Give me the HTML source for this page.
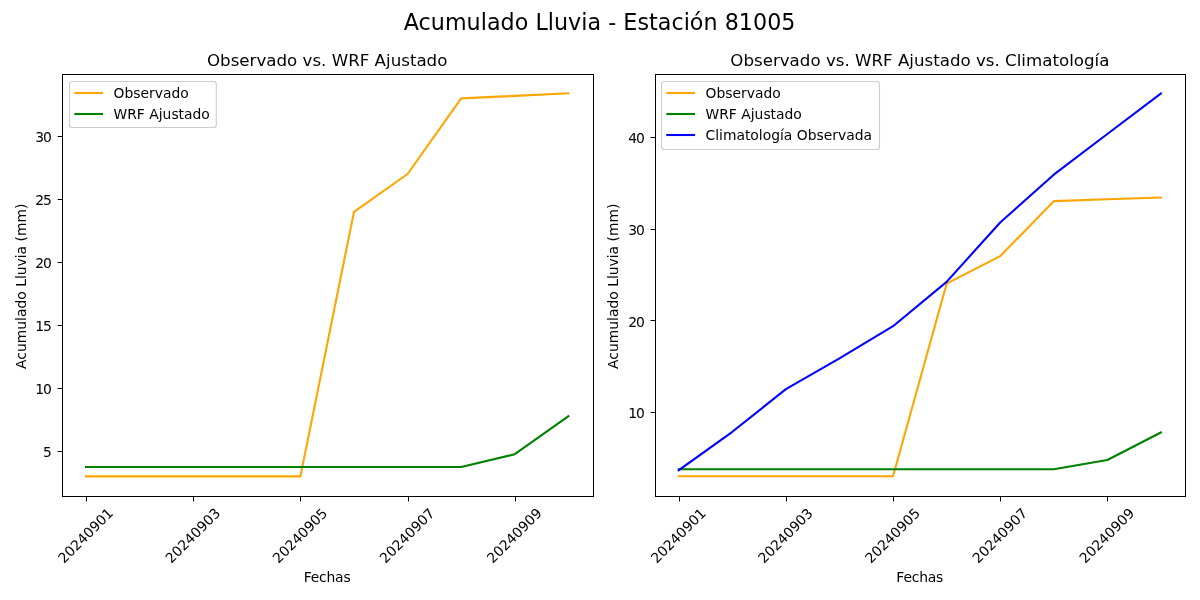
<!DOCTYPE html>
<html lang="es"><head><meta charset="utf-8"><title>Acumulado Lluvia - Estación 81005</title>
<style>html,body{margin:0;padding:0;background:#fff;}body{width:1200px;height:600px;overflow:hidden;}svg{display:block;}text{font-family:'DejaVu Sans','Liberation Sans',sans-serif;white-space:pre;}</style>
</head><body>
<svg width="1200" height="600" viewBox="0 0 1200 600" font-family="'DejaVu Sans','Liberation Sans',sans-serif" fill="#000">
<rect width="1200" height="600" fill="#fff"/>
<text id="t1" x="599.60" y="30.00" font-size="22.222" text-anchor="middle" textLength="391.66" lengthAdjust="spacing">Acumulado Lluvia - Estación 81005</text>
<g id="axes0">
<polyline points="86.02,476.39 139.62,476.39 193.21,476.39 246.81,476.39 300.40,476.39 354.00,211.79 407.59,173.99 461.19,98.39 514.79,95.87 568.38,93.35" fill="none" stroke="#ffa500" stroke-width="2.083" stroke-linejoin="round" stroke-linecap="square"/>
<polyline points="86.02,466.94 139.62,466.94 193.21,466.94 246.81,466.94 300.40,466.94 354.00,466.94 407.59,466.94 461.19,466.94 514.79,454.21 568.38,416.29" fill="none" stroke="#008000" stroke-width="2.083" stroke-linejoin="round" stroke-linecap="square"/>
<rect x="62.5" y="74.5" width="531" height="422" fill="none" stroke="#000" stroke-width="1" shape-rendering="crispEdges"/>
<line x1="86.5" y1="496.5" x2="86.5" y2="501.4" stroke="#000" stroke-width="1"/>
<text id="t2" x="86.72" y="536.80" font-size="13.889" text-anchor="middle" transform="rotate(-45 86.72 536.80)" dy="3.25">20240901</text>
<line x1="193.5" y1="496.5" x2="193.5" y2="501.4" stroke="#000" stroke-width="1"/>
<text id="t3" x="193.91" y="536.80" font-size="13.889" text-anchor="middle" transform="rotate(-45 193.91 536.80)" dy="3.25">20240903</text>
<line x1="300.5" y1="496.5" x2="300.5" y2="501.4" stroke="#000" stroke-width="1"/>
<text id="t4" x="301.10" y="536.80" font-size="13.889" text-anchor="middle" transform="rotate(-45 301.10 536.80)" dy="3.25">20240905</text>
<line x1="408.5" y1="496.5" x2="408.5" y2="501.4" stroke="#000" stroke-width="1"/>
<text id="t5" x="408.29" y="536.80" font-size="13.889" text-anchor="middle" transform="rotate(-45 408.29 536.80)" dy="3.25">20240907</text>
<line x1="515.5" y1="496.5" x2="515.5" y2="501.4" stroke="#000" stroke-width="1"/>
<text id="t6" x="515.49" y="536.80" font-size="13.889" text-anchor="middle" transform="rotate(-45 515.49 536.80)" dy="3.25">20240909</text>
<line x1="57.6" y1="451.5" x2="62.5" y2="451.5" stroke="#000" stroke-width="1"/>
<text id="t7" x="51.80" y="457.49" font-size="13.889" text-anchor="end">5</text>
<line x1="57.6" y1="388.5" x2="62.5" y2="388.5" stroke="#000" stroke-width="1"/>
<text id="t8" x="51.80" y="394.49" font-size="13.889" text-anchor="end" textLength="16.66" lengthAdjust="spacing">10</text>
<line x1="57.6" y1="325.5" x2="62.5" y2="325.5" stroke="#000" stroke-width="1"/>
<text id="t9" x="51.80" y="331.49" font-size="13.889" text-anchor="end" textLength="16.66" lengthAdjust="spacing">15</text>
<line x1="57.6" y1="262.5" x2="62.5" y2="262.5" stroke="#000" stroke-width="1"/>
<text id="t10" x="51.80" y="268.49" font-size="13.889" text-anchor="end" textLength="16.66" lengthAdjust="spacing">20</text>
<line x1="57.6" y1="199.5" x2="62.5" y2="199.5" stroke="#000" stroke-width="1"/>
<text id="t11" x="51.80" y="205.49" font-size="13.889" text-anchor="end" textLength="16.66" lengthAdjust="spacing">25</text>
<line x1="57.6" y1="136.5" x2="62.5" y2="136.5" stroke="#000" stroke-width="1"/>
<text id="t12" x="51.80" y="142.49" font-size="13.889" text-anchor="end" textLength="16.66" lengthAdjust="spacing">30</text>
<text id="t13" x="327.20" y="581.50" font-size="13.889" text-anchor="middle" textLength="46.92" lengthAdjust="spacing">Fechas</text>
<text id="t14" x="26.00" y="286.25" font-size="13.889" text-anchor="middle" transform="rotate(-90 26.00 286.25)">Acumulado Lluvia (mm)</text>
<text id="t15" x="327.20" y="66.00" font-size="16.667" text-anchor="middle">Observado vs. WRF Ajustado</text>
<rect x="69.5" y="81.5" width="146.8" height="46" rx="2.8" fill="#fff" fill-opacity="0.8" stroke="#ccc" stroke-width="1.11"/>
<line x1="75.3" y1="93.0" x2="102.0" y2="93.0" stroke="#ffa500" stroke-width="2.083" stroke-linecap="square"/>
<text id="t16" x="113.50" y="98.00" font-size="13.889" text-anchor="start">Observado</text>
<line x1="75.3" y1="114.0" x2="102.0" y2="114.0" stroke="#008000" stroke-width="2.083" stroke-linecap="square"/>
<text id="t17" x="113.50" y="119.00" font-size="13.889" text-anchor="start">WRF Ajustado</text>
</g>
<g id="axes1">
<polyline points="678.76,476.17 732.33,476.17 785.90,476.17 839.47,476.17 893.04,476.17 946.61,283.66 1000.18,256.16 1053.75,201.16 1107.32,199.33 1160.89,197.49" fill="none" stroke="#ffa500" stroke-width="2.083" stroke-linejoin="round" stroke-linecap="square"/>
<polyline points="678.76,469.29 732.33,469.29 785.90,469.29 839.47,469.29 893.04,469.29 946.61,469.29 1000.18,469.29 1053.75,469.29 1107.32,460.04 1160.89,432.44" fill="none" stroke="#008000" stroke-width="2.083" stroke-linejoin="round" stroke-linecap="square"/>
<polyline points="678.76,470.21 732.33,431.80 785.90,389.17 839.47,358.46 893.04,326.20 946.61,281.83 1000.18,222.52 1053.75,174.67 1107.32,133.96 1160.89,93.54" fill="none" stroke="#0000ff" stroke-width="2.083" stroke-linejoin="round" stroke-linecap="square"/>
<rect x="655.5" y="74.5" width="530" height="422" fill="none" stroke="#000" stroke-width="1" shape-rendering="crispEdges"/>
<line x1="679.5" y1="496.5" x2="679.5" y2="501.4" stroke="#000" stroke-width="1"/>
<text id="t18" x="679.46" y="536.80" font-size="13.889" text-anchor="middle" transform="rotate(-45 679.46 536.80)" dy="3.25">20240901</text>
<line x1="786.5" y1="496.5" x2="786.5" y2="501.4" stroke="#000" stroke-width="1"/>
<text id="t19" x="786.60" y="536.80" font-size="13.889" text-anchor="middle" transform="rotate(-45 786.60 536.80)" dy="3.25">20240903</text>
<line x1="893.5" y1="496.5" x2="893.5" y2="501.4" stroke="#000" stroke-width="1"/>
<text id="t20" x="893.74" y="536.80" font-size="13.889" text-anchor="middle" transform="rotate(-45 893.74 536.80)" dy="3.25">20240905</text>
<line x1="1000.5" y1="496.5" x2="1000.5" y2="501.4" stroke="#000" stroke-width="1"/>
<text id="t21" x="1000.88" y="536.80" font-size="13.889" text-anchor="middle" transform="rotate(-45 1000.88 536.80)" dy="3.25">20240907</text>
<line x1="1107.5" y1="496.5" x2="1107.5" y2="501.4" stroke="#000" stroke-width="1"/>
<text id="t22" x="1108.02" y="536.80" font-size="13.889" text-anchor="middle" transform="rotate(-45 1108.02 536.80)" dy="3.25">20240909</text>
<line x1="650.6" y1="412.5" x2="655.5" y2="412.5" stroke="#000" stroke-width="1"/>
<text id="t23" x="644.80" y="418.30" font-size="13.889" text-anchor="end" textLength="16.66" lengthAdjust="spacing">10</text>
<line x1="650.6" y1="320.5" x2="655.5" y2="320.5" stroke="#000" stroke-width="1"/>
<text id="t24" x="644.80" y="326.63" font-size="13.889" text-anchor="end" textLength="16.66" lengthAdjust="spacing">20</text>
<line x1="650.6" y1="229.5" x2="655.5" y2="229.5" stroke="#000" stroke-width="1"/>
<text id="t25" x="644.80" y="234.96" font-size="13.889" text-anchor="end" textLength="16.66" lengthAdjust="spacing">30</text>
<line x1="650.6" y1="137.5" x2="655.5" y2="137.5" stroke="#000" stroke-width="1"/>
<text id="t26" x="644.80" y="143.29" font-size="13.889" text-anchor="end" textLength="16.66" lengthAdjust="spacing">40</text>
<text id="t27" x="919.83" y="581.50" font-size="13.889" text-anchor="middle" textLength="46.92" lengthAdjust="spacing">Fechas</text>
<text id="t28" x="618.00" y="286.25" font-size="13.889" text-anchor="middle" transform="rotate(-90 618.00 286.25)">Acumulado Lluvia (mm)</text>
<text id="t29" x="919.83" y="66.00" font-size="16.667" text-anchor="middle">Observado vs. WRF Ajustado vs. Climatología</text>
<rect x="661.5" y="81.5" width="218" height="68" rx="2.8" fill="#fff" fill-opacity="0.8" stroke="#ccc" stroke-width="1.11"/>
<line x1="667.3" y1="93.0" x2="694.0" y2="93.0" stroke="#ffa500" stroke-width="2.083" stroke-linecap="square"/>
<text id="t30" x="705.50" y="98.00" font-size="13.889" text-anchor="start">Observado</text>
<line x1="667.3" y1="114.0" x2="694.0" y2="114.0" stroke="#008000" stroke-width="2.083" stroke-linecap="square"/>
<text id="t31" x="705.50" y="119.00" font-size="13.889" text-anchor="start">WRF Ajustado</text>
<line x1="667.3" y1="135.0" x2="694.0" y2="135.0" stroke="#0000ff" stroke-width="2.083" stroke-linecap="square"/>
<text id="t32" x="705.50" y="140.00" font-size="13.889" text-anchor="start">Climatología Observada</text>
</g>
</svg>
</body></html>
